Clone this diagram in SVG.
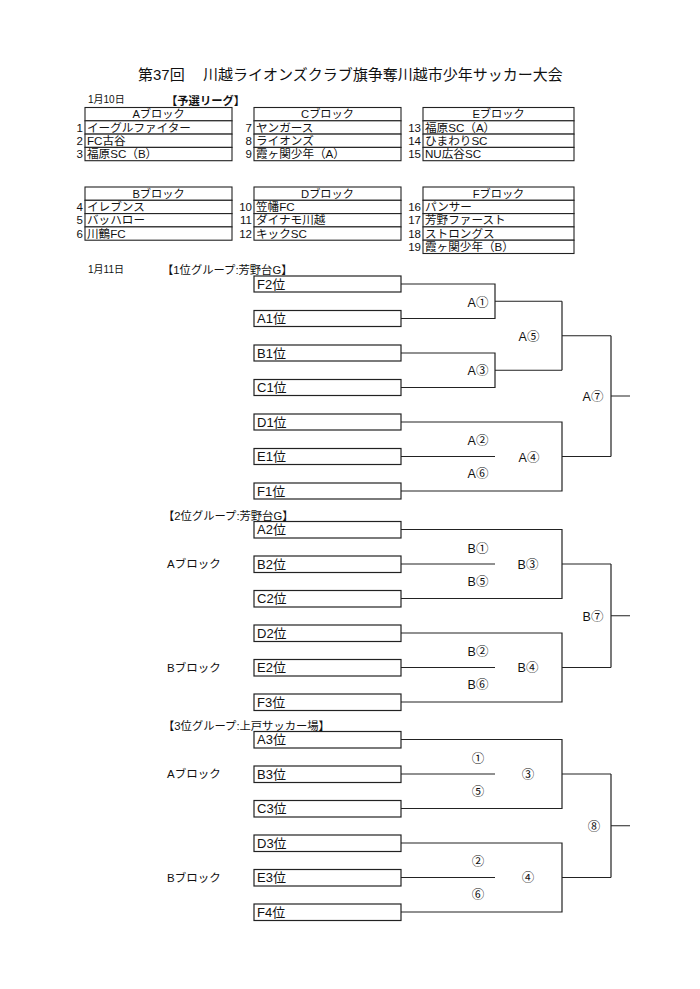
<svg xmlns="http://www.w3.org/2000/svg" width="700" height="989" viewBox="0 0 700 989">
<style>
text{font-family:"Liberation Sans","Noto Sans CJK JP",sans-serif;fill:#111}
.t{font-size:15px}
.s{font-size:10px}
.h{font-size:11.3px}
.b{font-weight:bold}
.cell{fill:#fff;stroke:#222;stroke-width:1.1}
.row{font-size:11.6px}
.hd{font-size:11.2px;text-anchor:middle}
.num{font-size:11.5px;text-anchor:end}
.box{fill:#fff;stroke:#222;stroke-width:1.2}
.bl{font-size:13px}
.ml{font-size:12.5px;text-anchor:middle}
.lbl{font-size:11.5px}
.con path{fill:none;stroke:#222;stroke-width:1.2}
</style>
<rect width="700" height="989" fill="#fff"/>
<text class="t" x="138" y="80">第37回<tspan x="203">川越ライオンズクラブ旗争奪川越市少年サッカー大会</tspan></text>
<text class="s" x="88" y="103">1月10日</text>
<text class="h b" x="166" y="105">【予選リーグ】</text>

<g id="blockA">
<rect class="cell" x="85" y="107.5" width="147" height="13.3"/>
<rect class="cell" x="85" y="120.8" width="147" height="13.3"/>
<rect class="cell" x="85" y="134.1" width="147" height="13.3"/>
<rect class="cell" x="85" y="147.4" width="147" height="13.3"/>
<text class="hd" x="158.5" y="118.3">Aブロック</text>
<text class="num" x="83" y="131.6">1</text><text class="row" x="87" y="131.6">イーグルファイター</text>
<text class="num" x="83" y="144.9">2</text><text class="row" x="87" y="144.9">FC古谷</text>
<text class="num" x="83" y="158.2">3</text><text class="row" x="87" y="158.2">福原SC（B）</text>
</g>
<g id="blockC">
<rect class="cell" x="254" y="107.5" width="147" height="13.3"/>
<rect class="cell" x="254" y="120.8" width="147" height="13.3"/>
<rect class="cell" x="254" y="134.1" width="147" height="13.3"/>
<rect class="cell" x="254" y="147.4" width="147" height="13.3"/>
<text class="hd" x="327.5" y="118.3">Cブロック</text>
<text class="num" x="252" y="131.6">7</text><text class="row" x="256" y="131.6">ヤンガース</text>
<text class="num" x="252" y="144.9">8</text><text class="row" x="256" y="144.9">ライオンズ</text>
<text class="num" x="252" y="158.2">9</text><text class="row" x="256" y="158.2">霞ヶ関少年（A）</text>
</g>
<g id="blockE">
<rect class="cell" x="423" y="107.5" width="151" height="13.3"/>
<rect class="cell" x="423" y="120.8" width="151" height="13.3"/>
<rect class="cell" x="423" y="134.1" width="151" height="13.3"/>
<rect class="cell" x="423" y="147.4" width="151" height="13.3"/>
<text class="hd" x="498.5" y="118.3">Eブロック</text>
<text class="num" x="421" y="131.6">13</text><text class="row" x="425" y="131.6">福原SC（A）</text>
<text class="num" x="421" y="144.9">14</text><text class="row" x="425" y="144.9">ひまわりSC</text>
<text class="num" x="421" y="158.2">15</text><text class="row" x="425" y="158.2">NU広谷SC</text>
</g>
<g id="blockB">
<rect class="cell" x="85" y="187" width="147" height="13.3"/>
<rect class="cell" x="85" y="200.3" width="147" height="13.3"/>
<rect class="cell" x="85" y="213.6" width="147" height="13.3"/>
<rect class="cell" x="85" y="226.9" width="147" height="13.3"/>
<text class="hd" x="158.5" y="197.8">Bブロック</text>
<text class="num" x="83" y="211.1">4</text><text class="row" x="87" y="211.1">イレブンス</text>
<text class="num" x="83" y="224.4">5</text><text class="row" x="87" y="224.4">バッハロー</text>
<text class="num" x="83" y="237.7">6</text><text class="row" x="87" y="237.7">川鶴FC</text>
</g>
<g id="blockD">
<rect class="cell" x="254" y="187" width="147" height="13.3"/>
<rect class="cell" x="254" y="200.3" width="147" height="13.3"/>
<rect class="cell" x="254" y="213.6" width="147" height="13.3"/>
<rect class="cell" x="254" y="226.9" width="147" height="13.3"/>
<text class="hd" x="327.5" y="197.8">Dブロック</text>
<text class="num" x="252" y="211.1">10</text><text class="row" x="256" y="211.1">笠幡FC</text>
<text class="num" x="252" y="224.4">11</text><text class="row" x="256" y="224.4">ダイナモ川越</text>
<text class="num" x="252" y="237.7">12</text><text class="row" x="256" y="237.7">キックSC</text>
</g>
<g id="blockF">
<rect class="cell" x="423" y="187" width="151" height="13.3"/>
<rect class="cell" x="423" y="200.3" width="151" height="13.3"/>
<rect class="cell" x="423" y="213.6" width="151" height="13.3"/>
<rect class="cell" x="423" y="226.9" width="151" height="13.3"/>
<rect class="cell" x="423" y="240.2" width="151" height="13.3"/>
<text class="hd" x="498.5" y="197.8">Fブロック</text>
<text class="num" x="421" y="211.1">16</text><text class="row" x="425" y="211.1">パンサー</text>
<text class="num" x="421" y="224.4">17</text><text class="row" x="425" y="224.4">芳野ファースト</text>
<text class="num" x="421" y="237.7">18</text><text class="row" x="425" y="237.7">ストロングス</text>
<text class="num" x="421" y="251">19</text><text class="row" x="425" y="251">霞ヶ関少年（B）</text>
</g>

<text class="s" x="88" y="273">1月11日</text>
<text class="h" x="162" y="274">【1位グループ:芳野台G】</text>
<text class="h" x="163" y="519.5">【2位グループ:芳野台G】</text>
<text class="h" x="163" y="729.5">【3位グループ:上戸サッカー場】</text>
<text class="lbl" x="167" y="568.3">Aブロック</text>
<text class="lbl" x="167" y="671.5">Bブロック</text>
<text class="lbl" x="167" y="778.3">Aブロック</text>
<text class="lbl" x="167" y="881.5">Bブロック</text>

<g class="con" id="connectors">
<path d="M401 284H495V318.5H401M495 301.25H562"/>
<path d="M401 353H495V387.5H401M495 370.25H562"/>
<path d="M562 301.25V370.25M562 335.75H611"/>
<path d="M401 422H562V491H401M401 456.5H495M562 456.5H611"/>
<path d="M611 335.75V456.5M611 396H630"/>
<path d="M401 529.5H562V598.5H401M401 564H495M562 564H611"/>
<path d="M401 633H562V702H401M401 667.5H495M562 667.5H611"/>
<path d="M611 564V667.5M611 615.75H630"/>
<path d="M401 739.5H562V808.5H401M401 774H495M562 774H611"/>
<path d="M401 843H562V912H401M401 877.5H495M562 877.5H611"/>
<path d="M611 774V877.5M611 825.75H630"/>
</g>

<g id="n-F2"><rect class="box" x="254" y="276" width="147" height="16"/><text class="bl" x="257" y="288.5">F2位</text></g>
<g id="n-A1"><rect class="box" x="254" y="310.5" width="147" height="16"/><text class="bl" x="257" y="323">A1位</text></g>
<g id="n-B1"><rect class="box" x="254" y="345" width="147" height="16"/><text class="bl" x="257" y="357.5">B1位</text></g>
<g id="n-C1"><rect class="box" x="254" y="379.5" width="147" height="16"/><text class="bl" x="257" y="392">C1位</text></g>
<g id="n-D1"><rect class="box" x="254" y="414" width="147" height="16"/><text class="bl" x="257" y="426.5">D1位</text></g>
<g id="n-E1"><rect class="box" x="254" y="448.5" width="147" height="16"/><text class="bl" x="257" y="461">E1位</text></g>
<g id="n-F1"><rect class="box" x="254" y="483" width="147" height="16"/><text class="bl" x="257" y="495.5">F1位</text></g>

<g id="n-A2"><rect class="box" x="254" y="521.5" width="147" height="16.5"/><text class="bl" x="257" y="534">A2位</text></g>
<g id="n-B2"><rect class="box" x="254" y="556" width="147" height="16.5"/><text class="bl" x="257" y="568.5">B2位</text></g>
<g id="n-C2"><rect class="box" x="254" y="590.5" width="147" height="16.5"/><text class="bl" x="257" y="603">C2位</text></g>
<g id="n-D2"><rect class="box" x="254" y="625" width="147" height="16.5"/><text class="bl" x="257" y="637.5">D2位</text></g>
<g id="n-E2"><rect class="box" x="254" y="659.5" width="147" height="16.5"/><text class="bl" x="257" y="672">E2位</text></g>
<g id="n-F3"><rect class="box" x="254" y="694" width="147" height="16.5"/><text class="bl" x="257" y="706.5">F3位</text></g>

<g id="n-A3"><rect class="box" x="254" y="731.5" width="147" height="16.5"/><text class="bl" x="257" y="744">A3位</text></g>
<g id="n-B3"><rect class="box" x="254" y="766" width="147" height="16.5"/><text class="bl" x="257" y="778.5">B3位</text></g>
<g id="n-C3"><rect class="box" x="254" y="800.5" width="147" height="16.5"/><text class="bl" x="257" y="813">C3位</text></g>
<g id="n-D3"><rect class="box" x="254" y="835" width="147" height="16.5"/><text class="bl" x="257" y="847.5">D3位</text></g>
<g id="n-E3"><rect class="box" x="254" y="869.5" width="147" height="16.5"/><text class="bl" x="257" y="882">E3位</text></g>
<g id="n-F4"><rect class="box" x="254" y="904" width="147" height="16.5"/><text class="bl" x="257" y="916.5">F4位</text></g>

<g id="m-A1"><text class="ml" x="478" y="306.5">A①</text></g>
<g id="m-A3"><text class="ml" x="478" y="374.5">A③</text></g>
<g id="m-A5"><text class="ml" x="529" y="340.5">A⑤</text></g>
<g id="m-A2"><text class="ml" x="478" y="444.5">A②</text></g>
<g id="m-A6"><text class="ml" x="478" y="477.5">A⑥</text></g>
<g id="m-A4"><text class="ml" x="529" y="461.5">A④</text></g>
<g id="m-A7"><text class="ml" x="593" y="400.5">A⑦</text></g>

<g id="m-B1"><text class="ml" x="478" y="552.5">B①</text></g>
<g id="m-B5"><text class="ml" x="478" y="585.5">B⑤</text></g>
<g id="m-B3"><text class="ml" x="528" y="569">B③</text></g>
<g id="m-B2"><text class="ml" x="478" y="655.5">B②</text></g>
<g id="m-B6"><text class="ml" x="478" y="688.5">B⑥</text></g>
<g id="m-B4"><text class="ml" x="528" y="672">B④</text></g>
<g id="m-B7"><text class="ml" x="593" y="620.5">B⑦</text></g>

<g id="m-1"><text class="ml" x="478" y="762.5">①</text></g>
<g id="m-5"><text class="ml" x="478" y="795.5">⑤</text></g>
<g id="m-3"><text class="ml" x="528" y="779">③</text></g>
<g id="m-2"><text class="ml" x="478" y="865.5">②</text></g>
<g id="m-6"><text class="ml" x="478" y="898.5">⑥</text></g>
<g id="m-4"><text class="ml" x="528" y="882">④</text></g>
<g id="m-8"><text class="ml" x="594" y="830.5">⑧</text></g>
</svg>
